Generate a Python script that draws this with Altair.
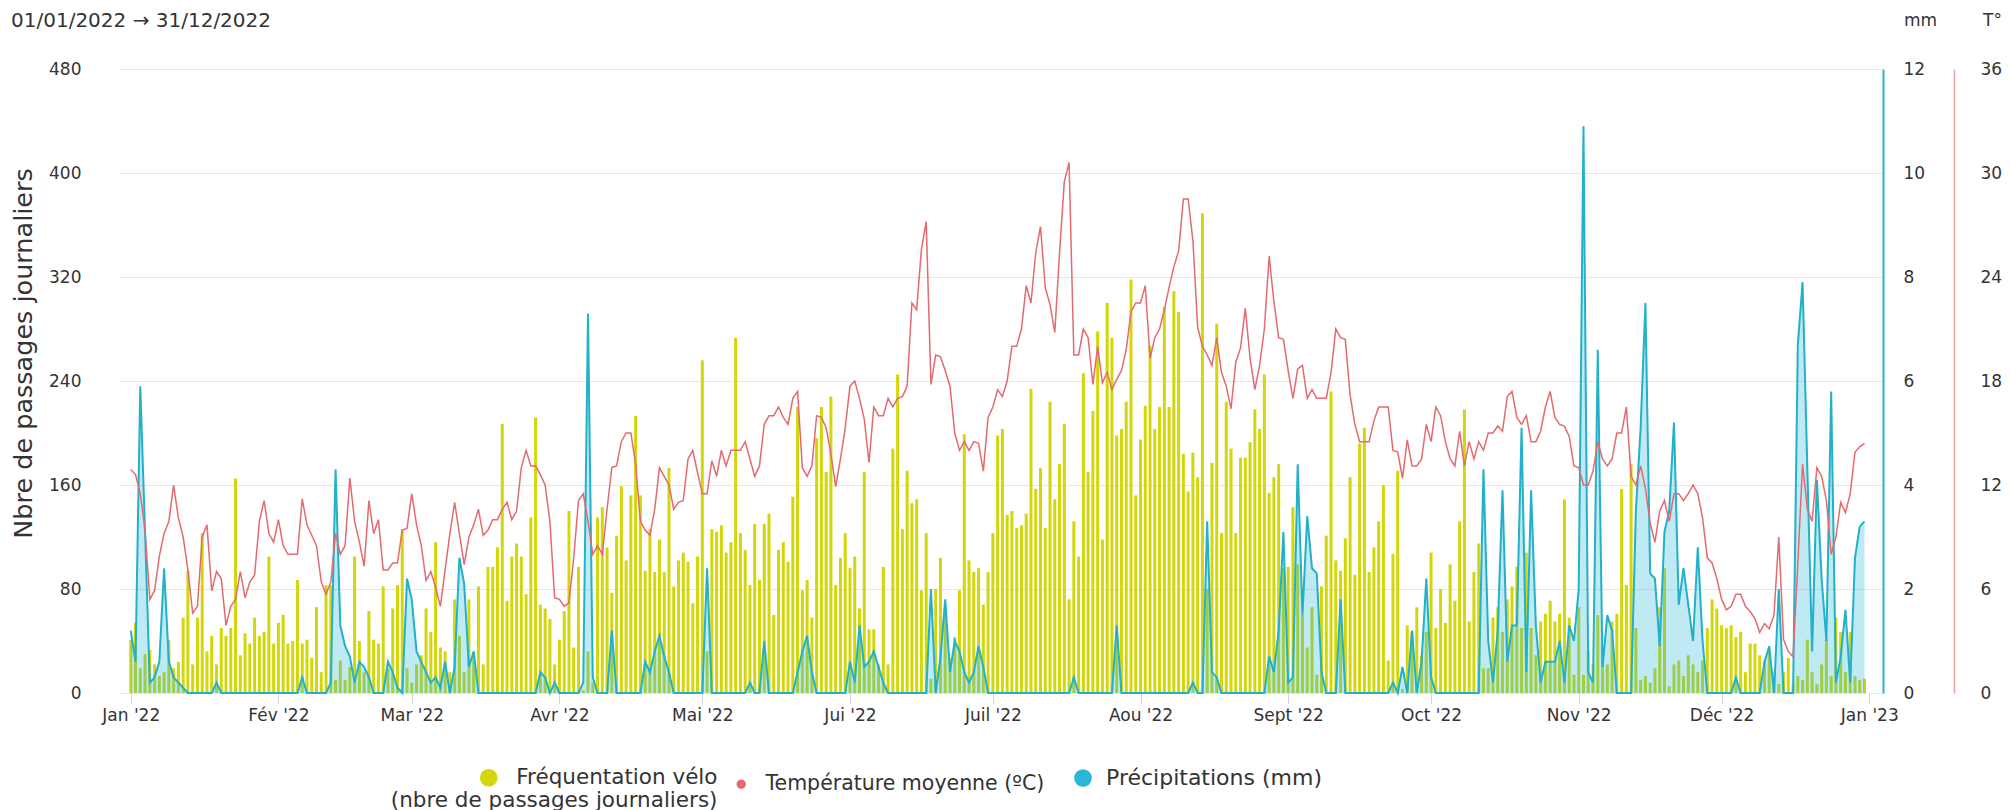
import altair as alt
import pandas as pd

# ---------------- data ----------------
bikes = [
    41, 54, 19, 30, 33, 22, 13, 16, 41, 19,
    24, 58, 94, 22, 58, 123, 32, 44, 22, 50,
    44, 50, 165, 29, 46, 38, 58, 44, 47, 105,
    38, 54, 60, 38, 40, 87, 38, 41, 27, 66,
    16, 83, 83, 10, 25, 10, 20, 105, 40, 16,
    63, 41, 38, 82, 19, 65, 83, 126, 19, 8,
    22, 29, 65, 47, 116, 35, 32, 16, 72, 44,
    16, 72, 29, 82, 22, 97, 97, 112, 207, 71,
    105, 115, 105, 76, 135, 212, 68, 65, 57, 22,
    41, 63, 140, 35, 97, 2, 32, 8, 135, 143,
    112, 77, 121, 159, 102, 152, 213, 152, 94, 126,
    93, 118, 93, 173, 82, 102, 108, 101, 69, 105,
    256, 32, 126, 124, 129, 108, 116, 273, 123, 110,
    83, 130, 87, 130, 138, 60, 110, 116, 101, 151,
    220, 79, 87, 58, 196, 220, 170, 228, 83, 104,
    123, 96, 105, 65, 170, 49, 49, 22, 97, 22,
    188, 245, 126, 171, 146, 149, 79, 123, 11, 80,
    104, 66, 27, 43, 79, 199, 102, 93, 96, 68,
    93, 123, 198, 203, 137, 140, 127, 129, 138, 234,
    157, 173, 127, 224, 149, 176, 207, 72, 132, 105,
    246, 170, 217, 278, 118, 300, 273, 198, 203, 224,
    318, 152, 195, 221, 267, 203, 220, 297, 220, 309,
    293, 184, 155, 185, 166, 369, 80, 177, 284, 123,
    224, 188, 123, 181, 181, 193, 218, 203, 245, 154,
    166, 176, 96, 97, 143, 99, 60, 35, 66, 14,
    82, 121, 232, 102, 94, 119, 166, 91, 192, 204,
    93, 112, 132, 160, 25, 107, 171, 3, 52, 47,
    66, 29, 47, 108, 50, 80, 54, 99, 71, 132,
    218, 55, 93, 115, 19, 19, 58, 66, 47, 72,
    82, 97, 50, 108, 50, 29, 55, 61, 71, 55,
    61, 149, 58, 14, 66, 14, 33, 22, 60, 35,
    22, 55, 61, 157, 83, 176, 50, 10, 13, 8,
    19, 66, 96, 5, 22, 25, 13, 29, 22, 16,
    25, 50, 72, 65, 52, 50, 52, 43, 47, 16,
    38, 38, 29, 25, 32, 16, 7, 16, 27, 7,
    13, 10, 41, 16, 7, 22, 41, 13, 58, 47,
    16, 47, 13, 10, 11,
]

temperature = [
    12.9, 12.6, 11.5, 9.4, 5.4, 5.9, 7.9, 9.2, 9.9, 12.0,
    10.1, 9.0, 7.1, 4.6, 5.0, 9.0, 9.7, 5.9, 7.0, 6.6,
    3.9, 5.0, 5.4, 7.0, 5.5, 6.4, 6.8, 9.9, 11.1, 9.2,
    8.7, 10.0, 8.5, 8.0, 8.0, 8.0, 11.2, 9.7, 9.1, 8.5,
    6.4, 5.7, 6.4, 9.2, 8.0, 8.5, 12.4, 9.9, 8.7, 7.3,
    11.1, 9.2, 10.0, 7.1, 7.1, 7.5, 7.5, 9.4, 9.5, 11.5,
    9.7, 8.5, 6.5, 7.0, 6.1, 5.0, 7.1, 9.2, 11.0, 9.2,
    7.4, 9.0, 9.7, 10.6, 9.1, 9.4, 10.0, 10.0, 10.6, 11.0,
    10.0, 10.5, 13.0, 14.0, 13.1, 13.1, 12.6, 12.0, 9.9, 5.5,
    5.4, 5.0, 5.2, 7.8, 11.1, 11.5, 9.9, 8.0, 8.5, 8.0,
    10.6, 13.0, 13.1, 14.5, 15.0, 15.0, 13.2, 9.9, 9.4, 9.1,
    10.6, 13.0, 12.5, 12.0, 10.6, 11.0, 11.1, 13.5, 14.0, 12.7,
    11.5, 11.5, 13.4, 12.5, 14.0, 13.1, 14.0, 14.0, 14.0, 14.5,
    13.5, 12.5, 13.1, 15.5, 16.0, 16.0, 16.5, 15.9, 15.5, 17.0,
    17.4, 13.0, 12.5, 13.1, 16.0, 15.9, 15.3, 13.8, 11.9, 13.5,
    15.3, 17.7, 18.0, 17.0, 15.8, 13.3, 16.5, 16.0, 16.0, 17.0,
    16.5, 17.0, 17.1, 17.7, 22.5, 22.1, 25.6, 27.2, 17.8, 19.5,
    19.4, 18.6, 17.7, 15.0, 14.0, 14.5, 14.0, 14.5, 14.4, 12.8,
    15.9, 16.5, 17.5, 17.1, 18.0, 20.0, 20.0, 21.0, 23.5, 22.5,
    25.4, 26.9, 23.4, 22.4, 20.8, 25.4, 29.5, 30.6, 19.5, 19.5,
    21.0, 20.5, 17.8, 20.0, 17.9, 18.5, 17.5, 18.1, 18.6, 19.8,
    22.0, 22.5, 22.5, 23.5, 19.3, 20.5, 21.0, 22.1, 23.4, 24.6,
    25.5, 28.5, 28.5, 26.1, 21.1, 20.0, 19.5, 18.9, 20.5, 18.5,
    17.7, 16.4, 19.1, 19.9, 22.2, 19.3, 17.5, 18.9, 21.0, 25.2,
    22.6, 20.5, 20.4, 18.6, 17.0, 18.7, 18.9, 17.0, 17.5, 17.0,
    17.0, 17.0, 18.5, 21.0, 20.5, 20.4, 17.2, 15.5, 14.5, 14.5,
    14.5, 15.7, 16.5, 16.5, 16.5, 14.0, 13.9, 12.4, 14.6, 13.1,
    13.1, 13.5, 15.5, 14.5, 16.5, 16.0, 14.5, 13.5, 13.1, 15.1,
    13.1, 14.5, 13.5, 14.5, 14.0, 15.0, 15.0, 15.4, 15.1, 17.1,
    17.4, 15.9, 15.5, 16.0, 14.5, 14.5, 15.1, 16.5, 17.4, 15.9,
    15.5, 15.4, 14.8, 13.1, 13.0, 12.0, 12.0, 12.8, 14.5, 13.5,
    13.1, 13.5, 15.0, 15.0, 16.5, 12.5, 12.0, 13.1, 11.8, 9.8,
    8.7, 10.5, 11.1, 9.9, 11.5, 11.5, 11.1, 11.5, 12.0, 11.5,
    10.1, 7.8, 7.5, 6.6, 5.4, 4.8, 5.0, 5.7, 5.7, 5.0,
    4.7, 4.3, 3.5, 4.0, 3.7, 4.5, 9.0, 3.1, 2.4, 2.1,
    7.5, 13.2, 10.6, 9.9, 13.0, 12.5, 11.1, 8.0, 9.0, 11.0,
    10.4, 11.5, 13.9, 14.2, 14.4,
]

precipitation = [
    1.2, 0.6, 5.9, 3.1, 0.2, 0.3, 0.6, 2.4, 0.6, 0.3,
    0.2, 0.1, 0, 0, 0, 0, 0, 0, 0.2, 0,
    0, 0, 0, 0, 0, 0, 0, 0, 0, 0,
    0, 0, 0, 0, 0, 0, 0.3, 0, 0, 0,
    0, 0, 0.2, 4.3, 1.3, 0.9, 0.7, 0.2, 0.6, 0.5,
    0.3, 0, 0, 0, 0.6, 0.4, 0.1, 0, 2.2, 1.8,
    0.8, 0.6, 0.4, 0.2, 0.3, 0.1, 0.6, 0, 0.5, 2.6,
    2.1, 0.5, 0.8, 0, 0, 0, 0, 0, 0, 0,
    0, 0, 0, 0, 0, 0, 0.4, 0.3, 0, 0.2,
    0, 0, 0, 0, 0, 0.2, 7.3, 0.3, 0, 0,
    0, 1.2, 0, 0, 0, 0, 0, 0, 0.6, 0.4,
    0.8, 1.1, 0.7, 0.4, 0, 0, 0, 0, 0, 0,
    0, 2.4, 0, 0, 0, 0, 0, 0, 0, 0,
    0.2, 0, 0, 1.0, 0, 0, 0, 0, 0, 0,
    0.4, 0.8, 1.1, 0.4, 0, 0, 0, 0, 0, 0,
    0, 0.6, 0.2, 1.3, 0.5, 0.6, 0.8, 0.5, 0.2, 0,
    0, 0, 0, 0, 0, 0, 0, 0, 2.0, 0,
    0.7, 1.8, 0.4, 1.0, 0.8, 0.4, 0.2, 0.4, 0.9, 0.5,
    0, 0, 0, 0, 0, 0, 0, 0, 0, 0,
    0, 0, 0, 0, 0, 0, 0, 0, 0.3, 0,
    0, 0, 0, 0, 0, 0, 0, 1.3, 0, 0,
    0, 0, 0, 0, 0, 0, 0, 0, 0, 0,
    0, 0, 0, 0.2, 0, 0, 3.3, 0.4, 0.3, 0,
    0, 0, 0, 0, 0, 0, 0, 0, 0, 0.7,
    0.4, 1.2, 3.1, 0.2, 0.3, 4.4, 1.5, 3.4, 2.4, 2.3,
    0.4, 0, 0, 0, 1.8, 0, 0, 0, 0, 0,
    0, 0, 0, 0, 0, 0.2, 0, 0.5, 0, 1.2,
    0, 0.6, 2.2, 0.3, 0, 0, 0, 0, 0, 0,
    0, 0, 0, 0, 4.3, 1.0, 0.2, 1.2, 3.9, 0.6,
    1.3, 1.3, 5.1, 0.4, 3.9, 1.3, 0.2, 0.6, 0.6, 0.6,
    1.0, 0.2, 1.3, 1.0, 2.0, 10.9, 0.4, 0.2, 6.6, 0.5,
    1.5, 1.2, 0, 0, 0, 0, 3.5, 5.1, 7.5, 2.3,
    2.2, 0.9, 3.1, 3.5, 5.2, 1.7, 2.4, 1.7, 1.0, 2.8,
    1.0, 0, 0, 0, 0, 0, 0, 0.3, 0, 0,
    0, 0, 0, 0.6, 0.9, 0, 2.0, 0, 0, 0,
    6.7, 7.9, 4.3, 0.8, 4.1, 2.2, 1.0, 5.8, 0.2, 0.7,
    1.6, 0.2, 2.6, 3.2, 3.3,
]

month_names = ["Jan", "Fév", "Mar", "Avr", "Mai", "Jui", "Juil", "Aou", "Sept", "Oct", "Nov", "Déc"]
bike_ticks = [0, 80, 160, 240, 320, 400, 480]
mm_ticks = [0, 2, 4, 6, 8, 10, 12]
temp_ticks = [0, 6, 12, 18, 24, 30, 36]

LBL_BIKES = "Fréquentation vélo"
LBL_BIKES2 = "(nbre de passages journaliers)"
LBL_TEMP = "Température moyenne (ºC)"
LBL_RAIN = "Précipitations (mm)"

# ---------------- table ----------------
dates = pd.date_range("2022-01-01", periods=365, freq="D").strftime("%Y-%m-%d").tolist()
df = pd.DataFrame({
    "date": dates,
    "bikes": bikes,
    "temp": temperature,
    "precip": precipitation,
})
df["s_bikes"] = LBL_BIKES
df["s_temp"] = LBL_TEMP
df["s_rain"] = LBL_RAIN


def ms(s):
    return int(pd.Timestamp(s, tz="UTC").value // 10**6)


x_domain = [ms("2021-12-30T14:00"), ms("2023-01-02T20:00")]
month_ticks = [ms(f"2022-{m:02d}-01") for m in range(1, 13)] + [ms("2023-01-01")]

FONT = "DejaVu Sans"
TXT = "#333333"
YELLOW = "#d3d70a"
BLUE = "#2bb5d8"
TEAL = "#22b1c8"
RED = "#e46a6f"

month_js = "[" + ",".join(f"'{m}'" for m in month_names) + "]"
x_enc = alt.X(
    "date:T",
    scale=alt.Scale(type="utc", domain=x_domain, nice=False),
    axis=alt.Axis(
        values=month_ticks,
        labelExpr=month_js + "[utcmonth(datum.value)] + \" '\" + utcFormat(datum.value, '%y')",
        title=None, grid=False, domain=False,
        tickColor="#ccd6eb", tickSize=10, labelPadding=4,
        labelFont=FONT, labelFontSize=17, labelColor=TXT,
        labelFlush=False, labelOverlap=False,
    ),
)

bars = alt.Chart(df).mark_bar(size=3).encode(
    x=x_enc,
    y=alt.Y(
        "bikes:Q",
        scale=alt.Scale(domain=[0, 480], nice=False),
        axis=alt.Axis(
            orient="left", values=bike_ticks, grid=True, gridColor="#e6e6e6",
            domain=False, ticks=False, labelPadding=38,
            labelFont=FONT, labelFontSize=17, labelColor=TXT,
            title="Nbre de passages journaliers", titleFont=FONT, titleFontSize=25.5,
            titleFontWeight="normal", titleColor=TXT, titleAngle=270,
            titleX=-96, titleY=284, titleAlign="center", titleBaseline="middle",
        ),
    ),
    color=alt.Color(
        "s_bikes:N",
        scale=alt.Scale(domain=[LBL_BIKES], range=[YELLOW]),
        legend=alt.Legend(
            orient="none", legendX=359, legendY=698, title=None, padding=0,
            symbolType="circle", symbolSize=314, symbolStrokeWidth=0, symbolOpacity=1,
            labelAlign="right", labelOffset=218, labelLimit=0,
            labelExpr="['" + LBL_BIKES + "', '" + LBL_BIKES2 + "']",
            labelFont=FONT, labelFontSize=21.5, labelColor=TXT,
        ),
    ),
)

rain_y = alt.Y(
    "precip:Q",
    scale=alt.Scale(domain=[0, 12], nice=False),
    axis=alt.Axis(
        orient="right", values=mm_ticks, grid=False, domain=True,
        domainColor="#2bb5c4", domainWidth=2, ticks=False, labelPadding=20,
        labelFont=FONT, labelFontSize=17, labelColor=TXT, labelAlign="left",
        title="mm", titleFont=FONT, titleFontSize=17, titleFontWeight="normal",
        titleColor=TXT, titleAngle=0, titleX=37, titleY=-49,
        titleAlign="center", titleBaseline="middle",
    ),
)

area = alt.Chart(df).mark_area(opacity=0.3, interpolate="linear").encode(
    x=x_enc,
    y=rain_y,
    color=alt.Color(
        "s_rain:N",
        scale=alt.Scale(domain=[LBL_RAIN], range=[BLUE]),
        legend=alt.Legend(
            orient="none", legendX=953, legendY=698, title=None, padding=0,
            symbolType="circle", symbolSize=314, symbolStrokeWidth=0, symbolOpacity=1,
            labelOffset=12, labelLimit=0,
            labelFont=FONT, labelFontSize=22, labelColor=TXT,
        ),
    ),
)

rain_line = alt.Chart(df).mark_line(color=TEAL, strokeWidth=2).encode(x=x_enc, y=rain_y)

temp_line = alt.Chart(df).mark_line(strokeWidth=1.5).encode(
    x=x_enc,
    y=alt.Y(
        "temp:Q",
        scale=alt.Scale(domain=[0, 36], nice=False),
        axis=alt.Axis(
            orient="right", offset=71, values=temp_ticks, grid=False, domain=True,
            domainColor="#e8a3a3", domainWidth=1.5, ticks=False, labelPadding=26,
            labelFont=FONT, labelFontSize=17, labelColor=TXT, labelAlign="left",
            title="T°", titleFont=FONT, titleFontSize=17, titleFontWeight="normal",
            titleColor=TXT, titleAngle=0, titleX=38, titleY=-49,
            titleAlign="center", titleBaseline="middle",
        ),
    ),
    color=alt.Color(
        "s_temp:N",
        scale=alt.Scale(domain=[LBL_TEMP], range=[RED]),
        legend=alt.Legend(
            orient="none", legendX=612, legendY=705, title=None, padding=0,
            symbolType="circle", symbolSize=20, symbolStrokeWidth=5, symbolOpacity=1,
            labelOffset=14, labelLimit=0,
            labelFont=FONT, labelFontSize=20.5, labelColor=TXT,
        ),
    ),
)

chart = (
    alt.layer(bars, alt.layer(area, rain_line), temp_line)
    .resolve_scale(y="independent", color="independent")
    .resolve_legend(color="independent")
    .properties(
        width=1764,
        height=624,
        autosize=alt.AutoSizeParams(type="none"),
        padding={"left": 111, "top": 61, "right": 120, "bottom": 125},
        title=alt.TitleParams(
            text="01/01/2022 → 31/12/2022", anchor="start", frame="group",
            dx=-108, dy=20, offset=0, font=FONT, fontSize=20,
            fontWeight="normal", color=TXT,
        ),
        background="white",
    )
    .configure_view(stroke=None)
)

chart.save("out.html", embed_options={"renderer": "svg", "actions": False})
